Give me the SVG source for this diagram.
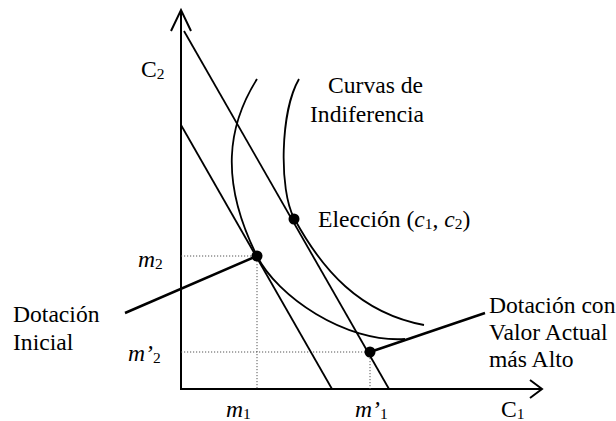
<svg xmlns="http://www.w3.org/2000/svg" width="616" height="421" viewBox="0 0 616 421">
<style>
text{font-family:"Liberation Serif","Times New Roman",serif;font-size:23.6px;fill:#000}
.it{font-style:italic}
.sub{font-size:15.5px}
.ax{stroke:#000;stroke-width:2;fill:none}
.ln{stroke:#000;stroke-width:1.8;fill:none}
.cv{stroke:#000;stroke-width:1.8;fill:none}
.dot{stroke:#555;stroke-width:1;stroke-dasharray:1.2 1.8;fill:none}
.lead{stroke:#000;stroke-width:2.5;fill:none}
</style>
<rect width="616" height="421" fill="#fff"/>
<g id="axes">
<path class="ax" d="M181,10 V389 H542"/>
<path class="ax" d="M171,31 L181,10 L191,31"/>
<path class="ax" d="M530,380 L542,389 L530,398"/>
<text x="141" y="77">C<tspan class="sub" dy="2">2</tspan></text>
<text x="501" y="417">C<tspan class="sub" dy="2">1</tspan></text>
</g>
<g id="guides">
<path class="dot" d="M181,256 H257 V389"/>
<path class="dot" d="M181,352 H370 V389"/>
</g>
<g id="budget-lines">
<path class="ln" d="M184,31 L389,389"/>
<path class="ln" d="M181,125 L332,389"/>
</g>
<g id="indifference-curves">
<path class="cv" d="M257,79 C228,125 219,180 257,256 C277,296 345,343 405,339"/>
<path class="cv" d="M299,79 C280,112 279,190 294,218 C322,270 360,313 424,325"/>
</g>
<g id="connectors">
<path class="lead" d="M257,256 L125,313"/>
<path class="lead" d="M370,352 L485,313"/>
</g>
<g id="endowment">
<circle cx="257" cy="256" r="5.5" fill="#000"/>
</g>
<g id="choice">
<circle cx="294" cy="219" r="5.5" fill="#000"/>
</g>
<g id="new-endowment">
<circle cx="370" cy="352" r="5.5" fill="#000"/>
</g>
<g id="labels">
<text x="328" y="93">Curvas de</text>
<text x="310" y="122">Indiferencia</text>
<text x="318" y="227">Elección (<tspan class="it">c</tspan><tspan class="sub" dy="2">1</tspan><tspan dy="-2">, </tspan><tspan class="it">c</tspan><tspan class="sub" dy="2">2</tspan><tspan dy="-2">)</tspan></text>
<text x="138" y="267"><tspan class="it">m</tspan><tspan class="sub" dy="2">2</tspan></text>
<text x="128" y="361"><tspan class="it">m’</tspan><tspan class="sub" dy="2">2</tspan></text>
<text x="226" y="417"><tspan class="it">m</tspan><tspan class="sub" dy="2">1</tspan></text>
<text x="355" y="417"><tspan class="it">m’</tspan><tspan class="sub" dy="2">1</tspan></text>
<text x="13" y="322">Dotación</text>
<text x="13" y="350">Inicial</text>
<text x="489" y="313">Dotación con</text>
<text x="489" y="340">Valor Actual</text>
<text x="489" y="367">más Alto</text>
</g>
</svg>
